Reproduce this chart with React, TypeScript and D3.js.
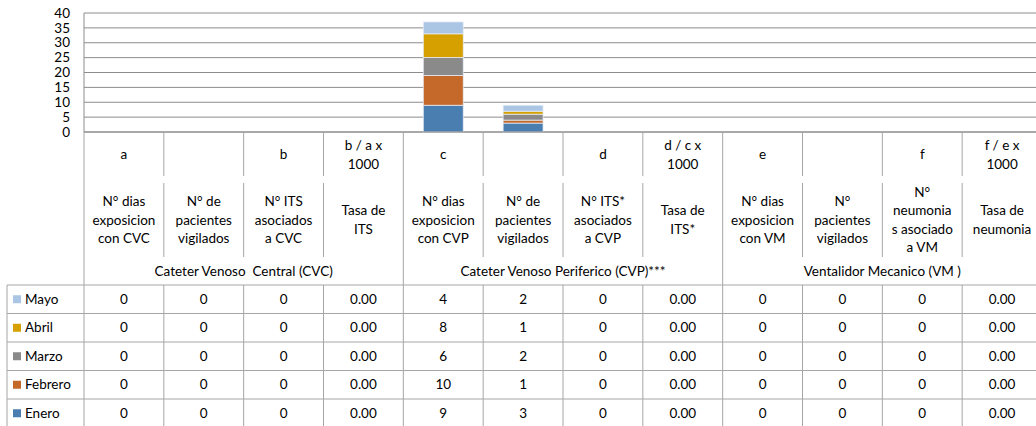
import React from "react";
import * as d3 from "d3";

const W = 1036;
const H = 426;

const letters: string[][] = [
  ["a"], [], ["b"], ["b / a x", "1000"],
  ["c"], [], ["d"], ["d / c x", "1000"],
  ["e"], [], ["f"], ["f / e x", "1000"],
];
const descriptions: string[][] = [
  ["N° dias", "exposicion", "con CVC"],
  ["N° de", "pacientes", "vigilados"],
  ["N° ITS", "asociados", "a CVC"],
  ["Tasa de", "ITS"],
  ["N° dias", "exposicion", "con CVP"],
  ["N° de", "pacientes", "vigilados"],
  ["N° ITS*", "asociados", "a CVP"],
  ["Tasa de", "ITS*"],
  ["N° dias", "exposicion", "con VM"],
  ["N°", "pacientes", "vigilados"],
  ["N°", "neumonia", "s asociado", "a VM"],
  ["Tasa de", "neumonia"],
];
const groups: string[] = [
  "Cateter Venoso  Central (CVC)",
  "Cateter Venoso Periferico (CVP)***",
  "Ventalidor Mecanico (VM )",
];
const rateColumns: number[] = [3, 7, 11];

const months: string[] = ["Enero", "Febrero", "Marzo", "Abril", "Mayo"];
const colors: string[] = ["#4a7eb1", "#c5692b", "#8a8a8a", "#d6a000", "#abc5e5"];

const enero: number[] = [0, 0, 0, 0, 9, 3, 0, 0, 0, 0, 0, 0];
const febrero: number[] = [0, 0, 0, 0, 10, 1, 0, 0, 0, 0, 0, 0];
const marzo: number[] = [0, 0, 0, 0, 6, 2, 0, 0, 0, 0, 0, 0];
const abril: number[] = [0, 0, 0, 0, 8, 1, 0, 0, 0, 0, 0, 0];
const mayo: number[] = [0, 0, 0, 0, 4, 2, 0, 0, 0, 0, 0, 0];
const series: number[][] = [enero, febrero, marzo, abril, mayo];

const yTicks: number[] = [0, 5, 10, 15, 20, 25, 30, 35, 40];

const FONT = "Lato, 'Open Sans', sans-serif";
const GRID = "#8c8c8c";
const LINE = "#a6a6a6";

export default function App() {
  const plotLeft = 84;
  const plotRight = 1042;
  const plotTop = 13;
  const plotBottom = 132;
  const letterBottom = 176;
  const descTop = 183;
  const descBottom = 257;
  const tableTop = 285;
  const rowH = 28.5;
  const legendLeft = 7;

  const cols = d3.range(12).map(String);
  const x = d3.scaleBand<string>().domain(cols).range([plotLeft, plotRight]).paddingInner(0).paddingOuter(0);
  const y = d3.scaleLinear().domain([0, 40]).range([plotBottom, plotTop]);
  const bw = x.bandwidth();
  const barW = bw / 2;

  const table = cols.map((c, i) => {
    const o: any = { key: c };
    months.forEach((m, k) => (o[m] = series[k][i]));
    return o;
  });
  const stacked = d3.stack<any>().keys(months)(table);

  const rowsTopDown = months.map((m, k) => ({ m, k })).reverse();
  const fs = 13.5;

  return (
    <svg width={W} height={H} style={{ position: "absolute", left: 0, top: 0, background: "#fff" }} fontFamily={FONT}>
      <rect x={0} y={0} width={W} height={H} fill="#fff" />
      {/* gridlines */}
      {yTicks.map((t) => (
        <line key={"g" + t} x1={plotLeft} x2={plotRight} y1={y(t)} y2={y(t)} stroke={GRID} strokeWidth={1} />
      ))}
      {/* y tick labels */}
      {yTicks.map((t) => (
        <text key={"yt" + t} x={70} y={y(t)} dy="0.35em" textAnchor="end" fontSize={fs} fill="#000">
          {t}
        </text>
      ))}
      {/* bars */}
      {stacked.map((s, k) =>
        s.map((d, i) =>
          d[1] - d[0] > 0 ? (
            <rect
              key={`b${k}-${i}`}
              x={(x(cols[i]) as number) + (bw - barW) / 2}
              y={y(d[1])}
              width={barW}
              height={y(d[0]) - y(d[1])}
              fill={colors[k]}
              stroke="#e8eef7"
              strokeWidth={0.75}
            />
          ) : null
        )
      )}
      {/* axis line */}
      <line x1={plotLeft} x2={plotRight} y1={plotBottom} y2={plotBottom} stroke={GRID} strokeWidth={1.2} />
      <line x1={plotLeft} x2={plotLeft} y1={plotTop} y2={plotBottom} stroke={GRID} strokeWidth={1} />

      {/* header vertical lines */}
      {d3.range(13).map((i) => {
        const xx = plotLeft + i * bw;
        const isGroup = i % 4 === 0;
        if (isGroup) {
          return (
            <line key={"hv" + i} x1={xx} x2={xx} y1={plotBottom} y2={tableTop + rowH * 5} stroke={LINE} strokeWidth={1} />
          );
        }
        return (
          <g key={"hv" + i}>
            <line x1={xx} x2={xx} y1={plotBottom} y2={letterBottom} stroke={LINE} strokeWidth={1} />
            <line x1={xx} x2={xx} y1={descTop} y2={descBottom} stroke={LINE} strokeWidth={1} />
            <line x1={xx} x2={xx} y1={tableTop} y2={tableTop + rowH * 5} stroke={LINE} strokeWidth={1} />
          </g>
        );
      })}

      {/* letters row */}
      {letters.map((ls, i) => {
        const cx = (x(cols[i]) as number) + bw / 2;
        const cy = (plotBottom + letterBottom) / 2 + 0.5;
        const lh = 19;
        return ls.map((l, j) => (
          <text key={`l${i}-${j}`} x={cx} y={cy + (j - (ls.length - 1) / 2) * lh} dy="0.35em" textAnchor="middle" fontSize={fs}>
            {l}
          </text>
        ));
      })}
      {/* descriptions */}
      {descriptions.map((ls, i) => {
        const cx = (x(cols[i]) as number) + bw / 2;
        const cy = (descTop + descBottom) / 2;
        const lh = 18.5;
        return ls.map((l, j) => (
          <text key={`d${i}-${j}`} x={cx} y={cy + (j - (ls.length - 1) / 2) * lh} dy="0.35em" textAnchor="middle" fontSize={fs}>
            {l}
          </text>
        ));
      })}
      {/* group labels */}
      {groups.map((g, gi) => {
        const cx = plotLeft + (gi * 4 + 2) * bw;
        return (
          <text key={"grp" + gi} x={cx} y={271} dy="0.35em" textAnchor="middle" fontSize={fs} style={{ whiteSpace: "pre" }}>
            {g}
          </text>
        );
      })}

      {/* table horizontal lines */}
      {d3.range(6).map((r) => (
        <line key={"th" + r} x1={legendLeft} x2={plotRight} y1={tableTop + r * rowH} y2={tableTop + r * rowH} stroke={LINE} strokeWidth={1} />
      ))}
      <line x1={legendLeft} x2={legendLeft} y1={tableTop} y2={tableTop + rowH * 5} stroke={LINE} strokeWidth={1} />

      {/* table rows */}
      {rowsTopDown.map(({ m, k }, r) => {
        const cy = tableTop + r * rowH + rowH / 2;
        return (
          <g key={"row" + m}>
            <rect x={13} y={cy - 4} width={8} height={8} fill={colors[k]} />
            <text x={25} y={cy} dy="0.35em" fontSize={fs}>
              {m}
            </text>
            {series[k].map((v, i) => (
              <text key={i} x={(x(cols[i]) as number) + bw / 2} y={cy} dy="0.35em" textAnchor="middle" fontSize={fs}>
                {rateColumns.includes(i) ? d3.format(".2f")(v) : v}
              </text>
            ))}
          </g>
        );
      })}
    </svg>
  );
}
